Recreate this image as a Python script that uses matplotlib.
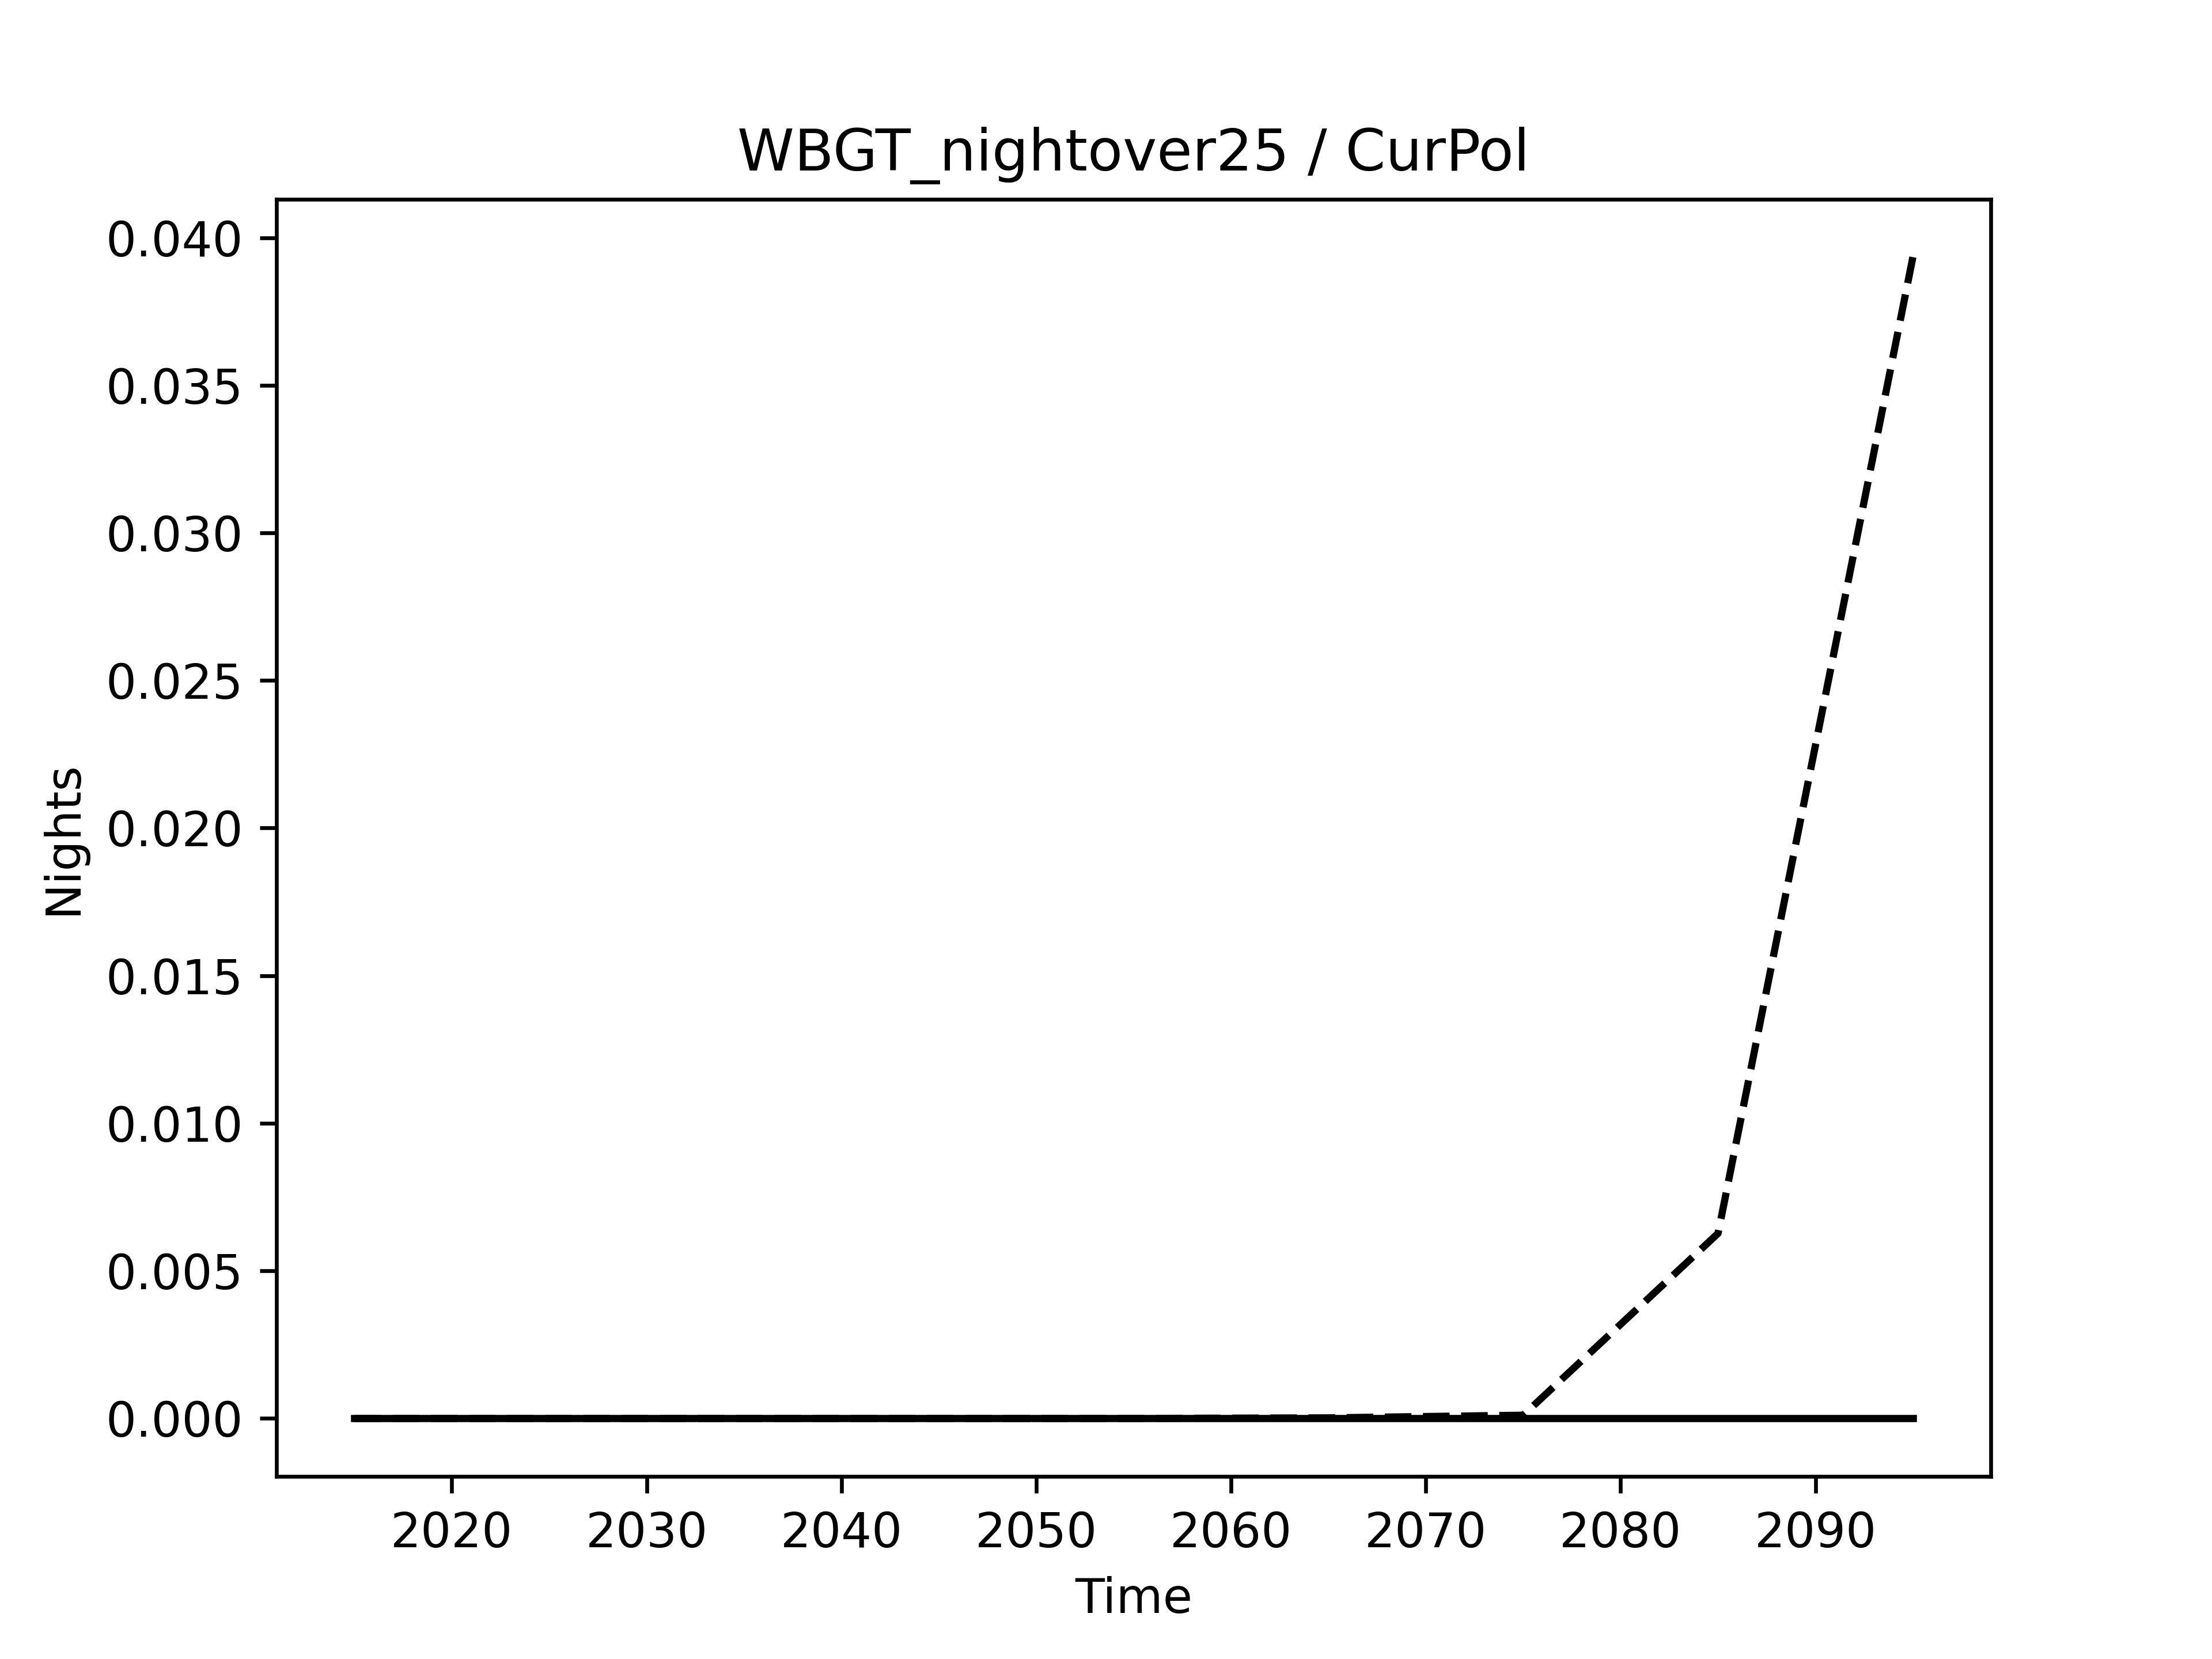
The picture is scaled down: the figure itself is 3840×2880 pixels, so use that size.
import matplotlib
matplotlib.use('Agg')
import matplotlib.pyplot as plt

years = [2015, 2025, 2035, 2045, 2055, 2065, 2075, 2085, 2095]
scenario_dashed = [0.0, 0.0, 0.0, 0.0, 0.0, 0.00002, 0.00011, 0.00627, 0.03934]
scenario_solid = [0.0, 0.0, 0.0, 0.0, 0.0, 0.0, 0.0, 0.0, 0.0]

fig, ax = plt.subplots(figsize=(6.4, 4.8))
ax.plot(years, scenario_dashed, color='black', linestyle='--')
ax.plot(years, scenario_solid, color='black', linestyle='-')
ax.set_title('WBGT_nightover25 / CurPol')
ax.set_xlabel('Time')
ax.set_ylabel('Nights')
plt.savefig('out.png', dpi=600)
plt.close()
